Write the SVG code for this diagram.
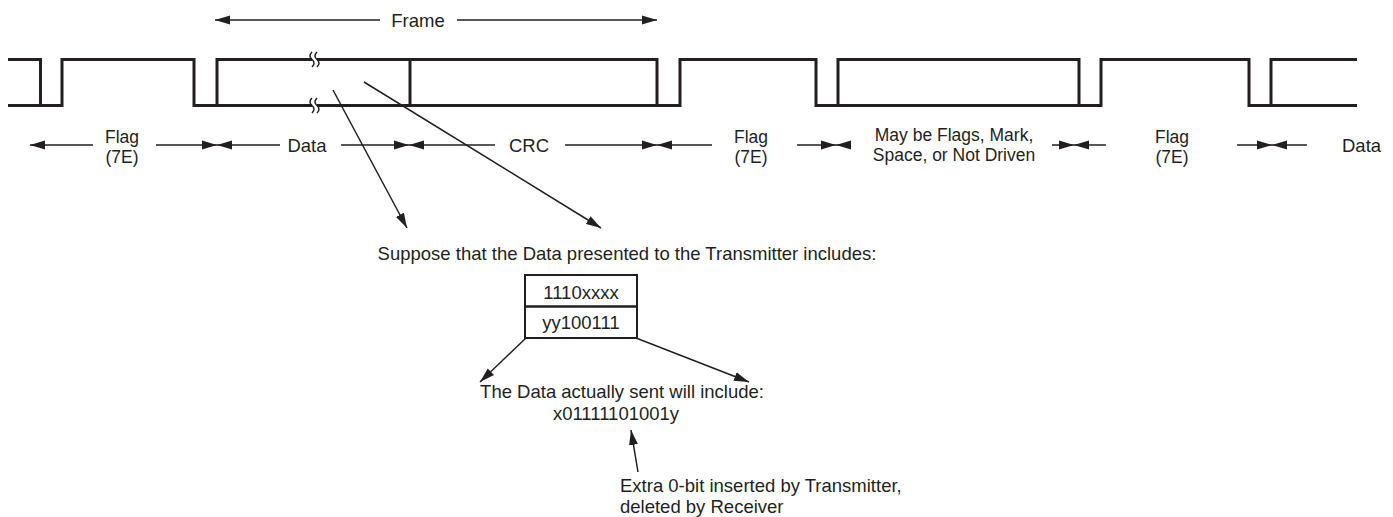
<svg xmlns="http://www.w3.org/2000/svg" width="1393" height="517" viewBox="0 0 1393 517">
<defs>
<style>
.t{font-family:"Liberation Sans",Arial,sans-serif;font-size:18.5px;fill:#231f20}
.s{font-size:17.5px}
.m{text-anchor:middle}
.w{fill:none;stroke:#231f20;stroke-width:3;stroke-linejoin:miter}
.a{fill:none;stroke:#231f20;stroke-width:1.5;marker-end:url(#ah)}
.br{fill:none;stroke:#231f20;stroke-width:1.5}
</style>
<marker id="ah" markerUnits="userSpaceOnUse" markerWidth="15" markerHeight="10" viewBox="0 0 15 10" refX="15" refY="5" orient="auto"><path d="M0,0.5 L15,5 L0,9.5 z" fill="#231f20"/></marker>
</defs>
<rect width="1393" height="517" fill="#fff"/>

<g id="frame-label">
<text class="t m" x="418" y="26.5">Frame</text>
<line class="a" x1="380" y1="20" x2="215" y2="20"/>
<line class="a" x1="457" y1="20" x2="657" y2="20"/>
</g>

<g id="waveform">
<path class="w" d="M8 59.5 H40.5 V105.5"/>
<path class="w" d="M8 105.5 H62 V59.5 H194 V105.5 H217 V59.5 H657 V105.5 H680 V59.5 H816 V105.5 H838 V59.5 H1079 V105.5 H1101 V59.5 H1249 V105.5 H1271 V59.5 H1357"/>
<path class="w" d="M217 105.5 H657 M410 59.5 V105.5 M838 105.5 H1079 M1271 105.5 H1357"/>
<rect x="312" y="56" width="5" height="7" fill="#fff"/>
<rect x="312" y="102" width="5" height="7" fill="#fff"/>
<path class="br" d="M312 52 q-4 4 0 7.5 t0 7.5 M317 52 q-4 4 0 7.5 t0 7.5"/>
<path class="br" d="M312 98 q-4 4 0 7.5 t0 7.5 M317 98 q-4 4 0 7.5 t0 7.5"/>
</g>

<g id="field-labels">
<text class="t s m" x="122" y="143">Flag<tspan x="122" dy="19.6">(7E)</tspan></text>
<line class="a" x1="93" y1="145" x2="30" y2="145"/>
<line class="a" x1="156" y1="145" x2="217" y2="145"/>
<text class="t m" x="307" y="151.5">Data</text>
<line class="a" x1="280" y1="145" x2="217" y2="145"/>
<line class="a" x1="341" y1="145" x2="409" y2="145"/>
<text class="t m" x="529" y="151.5">CRC</text>
<line class="a" x1="495" y1="145" x2="409" y2="145"/>
<line class="a" x1="565" y1="145" x2="657" y2="145"/>
<text class="t s m" x="751" y="143">Flag<tspan x="751" dy="19.6">(7E)</tspan></text>
<line class="a" x1="712" y1="145" x2="657" y2="145"/>
<line class="a" x1="797" y1="145" x2="836" y2="145"/>
<text class="t s m" x="954" y="141">May be Flags, Mark,<tspan x="954" dy="19.6">Space, or Not Driven</tspan></text>
<line class="a" x1="849" y1="145" x2="836" y2="145"/>
<line class="a" x1="1052" y1="145" x2="1074" y2="145"/>
<text class="t s m" x="1172" y="143">Flag<tspan x="1172" dy="19.6">(7E)</tspan></text>
<line class="a" x1="1106" y1="145" x2="1074" y2="145"/>
<line class="a" x1="1237" y1="145" x2="1272" y2="145"/>
<line class="a" x1="1307" y1="145" x2="1272" y2="145"/>
<text class="t" x="1342" y="151.5">Data</text>
</g>

<g id="suppose-text">
<text class="t m" x="627" y="260">Suppose that the Data presented to the Transmitter includes:</text>
</g>

<g id="data-box">
<rect x="525" y="275" width="112" height="63" fill="none" stroke="#231f20" stroke-width="2"/>
<line x1="525" y1="306.5" x2="637" y2="306.5" stroke="#231f20" stroke-width="2.5"/>
<text class="t m" x="581" y="299">1110xxxx</text>
<text class="t m" x="581" y="329">yy100111</text>
</g>

<g id="sent-text">
<text class="t m" x="622" y="398">The Data actually sent will include:<tspan x="616" dy="22">x01111101001y</tspan></text>
</g>

<g id="note-text">
<text class="t" x="620" y="492">Extra 0-bit inserted by Transmitter,<tspan x="620" dy="20.7">deleted by Receiver</tspan></text>
</g>

<g id="connectors">
<line class="a" x1="333" y1="90" x2="407" y2="228"/>
<line class="a" x1="364" y1="82" x2="601" y2="228"/>
<line class="a" x1="526" y1="338" x2="480" y2="382"/>
<line class="a" x1="636" y1="338" x2="749" y2="382"/>
<line class="a" x1="638" y1="472" x2="631" y2="430"/>
</g>
</svg>
